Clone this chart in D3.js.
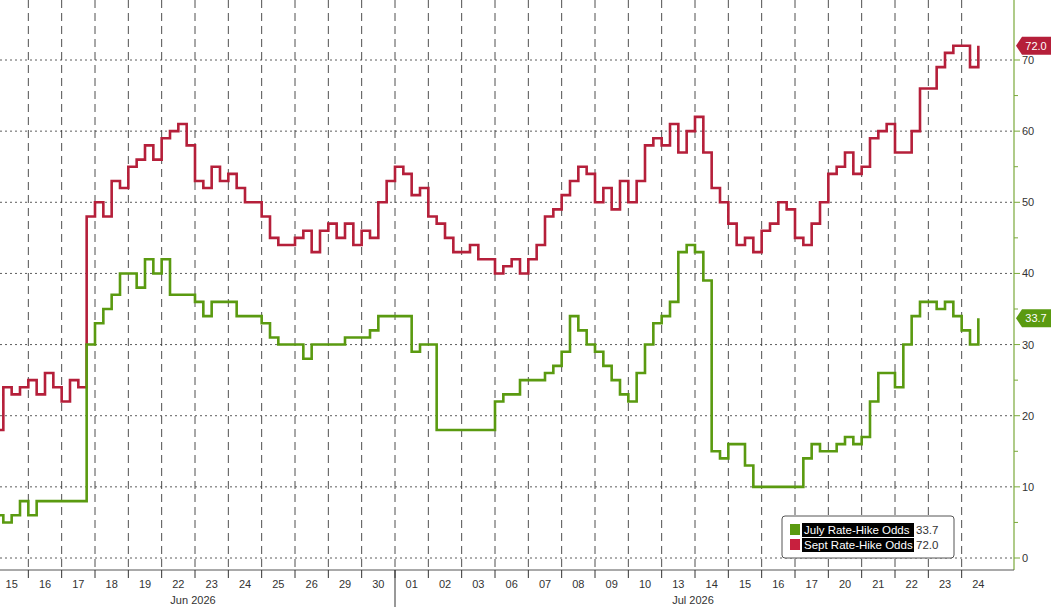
<!DOCTYPE html><html><head><meta charset="utf-8"><script src="https://cdn.jsdelivr.net/npm/d3@7"></script>
<style>body{margin:0;background:#fff}text{font-family:"Liberation Sans",Arial,sans-serif}</style></head><body><svg id="c" width="1051" height="610"></svg>
<script>
const days=["15","16","17","18","19","22","23","24","25","26","29","30","01","02","03","06","07","08","09","10","13","14","15","16","17","20","21","22","23","24"];
const months=[{label:"Jun 2026",from:0,to:12},{label:"Jul 2026",from:12,to:30}];
const yTicks=[0,10,20,30,40,50,60,70];
const sept=[18,24,23,24, 25,23,26,24, 22,25,24,48, 50,48,53,52, 55,56,58,56, 59,60,61,58, 53,52,55,53, 54,52,50,50, 48,45,44,44, 45,46,43,46, 47,45,47,44, 46,45,50,53, 55,54,51,52, 48,47,45,43, 43,44,42,42, 40,41,42,40, 42,44,48,49, 51,53,55,54, 50,52,49,53, 50,53,58,59, 58,61,57,60, 62,57,52,50, 47,44,45,43, 46,47,50,49, 45,44,47,50, 54,55,57,54, 55,59,60,61, 57,57,60,66, 66,69,71,72, 72,69,72,72];
const july=[6,5,6,8, 6,8,8,8, 8,8,8,30, 33,35,37,40, 40,38,42,40, 42,37,37,37, 36,34,36,36, 36,34,34,34, 33,31,30,30, 30,28,30,30, 30,30,31,31, 31,32,34,34, 34,34,29,30, 30,18,18,18, 18,18,18,18, 22,23,23,25, 25,25,26,27, 29,34,32,30, 29,27,25,23, 22,26,30,33, 34,36,43,44, 43,39,15,14, 16,16,13,10, 10,10,10,10, 10,14,16,15, 15,16,17,16, 17,22,26,26, 24,30,34,36, 36,35,36,34, 32,30,33.7,33.7];
const lastJuly=33.7,lastSept=72.0;
const svg=d3.select("#c");
const x=d3.scaleLinear().domain([0,30]).range([-5,995]);
const y=d3.scaleLinear().domain([0,70]).range([558,60]);
const plotR=1014,plotB=570;
// grid
svg.append("g").selectAll("line").data(d3.range(1,30)).join("line")
 .attr("x1",d=>x(d)).attr("x2",d=>x(d)).attr("y1",0).attr("y2",plotB)
 .attr("stroke","#222").attr("stroke-dasharray","8,5").attr("stroke-width",0.8);
svg.append("g").selectAll("line").data(yTicks).join("line")
 .attr("x1",0).attr("x2",plotR).attr("y1",d=>y(d)).attr("y2",d=>y(d))
 .attr("stroke","#333").attr("stroke-dasharray","2,3").attr("stroke-width",0.8);
// axes
svg.append("line").attr("x1",plotR).attr("x2",plotR).attr("y1",0).attr("y2",plotB).attr("stroke","#7aa83a").attr("stroke-width",1.2);
svg.append("line").attr("x1",0).attr("x2",plotR).attr("y1",plotB).attr("y2",plotB).attr("stroke","#555");
const ya=svg.append("g");
d3.range(0,75,5).forEach(v=>{ya.append("line").attr("x1",plotR).attr("x2",plotR+(v%10?4:6)).attr("y1",y(v)).attr("y2",y(v)).attr("stroke","#7aa83a");});
ya.selectAll("text").data(yTicks).join("text").attr("x",1022).attr("y",d=>y(d)+4).attr("font-size",11).attr("fill","#333").text(d=>d);
svg.append("g").selectAll("line").data(d3.range(1,30)).join("line")
 .attr("x1",d=>x(d)).attr("x2",d=>x(d)).attr("y1",plotB).attr("y2",plotB+8).attr("stroke","#333");
svg.append("line").attr("x1",x(12)).attr("x2",x(12)).attr("y1",plotB).attr("y2",607).attr("stroke","#333");
svg.append("g").selectAll("text").data(days).join("text").attr("x",(d,i)=>x(i+0.5)).attr("y",588).attr("text-anchor","middle").attr("font-size",11).attr("fill","#333").text(d=>d);
svg.append("g").selectAll("text").data(months).join("text").attr("x",d=>d.label.startsWith("Jun")?193:693).attr("y",604).attr("text-anchor","middle").attr("font-size",11).attr("fill","#333").text(d=>d.label);
// lines
const line=d3.line().x((d,i)=>x(i/4)).y(d=>y(d)).curve(d3.curveStepAfter);
const clip=a=>a;
svg.append("path").datum(sept.slice(0,119)).attr("d",line).attr("fill","none").attr("stroke","#b51f3a").attr("stroke-width",2.6);
svg.append("path").datum(july.slice(0,119)).attr("d",line).attr("fill","none").attr("stroke","#5a9a10").attr("stroke-width",2.6);
// tags
function tag(v,col){const g=svg.append("g").attr("transform",`translate(1016,${y(v)})`);
 g.append("path").attr("d","M0,0 L6,-9 L35,-9 L35,9 L6,9 Z").attr("fill",col);
 g.append("text").attr("x",20).attr("y",4).attr("text-anchor","middle").attr("font-size",11).attr("fill","#fff").text(v.toFixed(1));}
tag(lastSept,"#b51f3a");tag(lastJuly,"#5a9a10");
// legend
const lg=svg.append("g").attr("transform","translate(782,516)");
lg.append("rect").attr("width",172).attr("height",42).attr("rx",3).attr("fill","#fff").attr("stroke","#555");
[["July Rate-Hike Odds",lastJuly,"#5a9a10"],["Sept Rate-Hike Odds",lastSept,"#c8203e"]].forEach((r,i)=>{
 const yy=8+i*15;
 lg.append("rect").attr("x",8).attr("y",yy).attr("width",10).attr("height",11).attr("fill",r[2]);
 lg.append("rect").attr("x",20).attr("y",yy-1).attr("width",112).attr("height",14).attr("fill","#000");
 lg.append("text").attr("x",22).attr("y",yy+10).attr("font-size",11.5).attr("fill","#fff").text(r[0]);
 lg.append("text").attr("x",134).attr("y",yy+10).attr("font-size",11.5).attr("fill","#333").text(r[1].toFixed(1));
});
</script></body></html>
